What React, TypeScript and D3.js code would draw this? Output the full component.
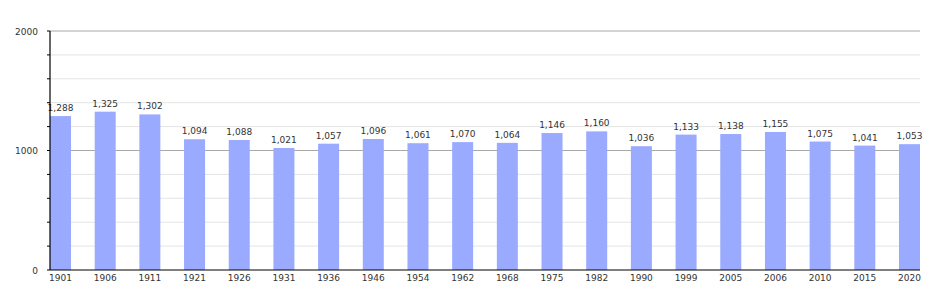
import React from "react";
import * as d3 from "d3";

const years = ["1901","1906","1911","1921","1926","1931","1936","1946","1954","1962","1968","1975","1982","1990","1999","2005","2006","2010","2015","2020"];
const population = [1288,1325,1302,1094,1088,1021,1057,1096,1061,1070,1064,1146,1160,1036,1133,1138,1155,1075,1041,1053];
const yTicks = [0, 1000, 2000];
const minorTicks = [200, 400, 600, 800, 1200, 1400, 1600, 1800];

export default function App() {
  const W = 950, H = 300;
  const left = 50, right = 920, top = 31, bottom = 270;
  const barW = 21;
  const y = d3.scaleLinear().domain([0, 2000]).range([bottom, top]);
  const x = d3.scalePoint<string>().domain(years).range([left + barW / 2, right - barW / 2]);
  const fmt = d3.format(",");
  const font = "Verdana, 'DejaVu Sans', sans-serif";
  return (
    <svg width={W} height={H} style={{ position: "absolute", left: 0, top: 0 }}>
      <rect width={W} height={H} fill="#fff" />
      {minorTicks.map(t => (
        <g key={t}>
          <line x1={left} x2={right} y1={y(t)} y2={y(t)} stroke="#e4e4e4" strokeWidth={1} />
          <line x1={left - 3} x2={left} y1={y(t)} y2={y(t)} stroke="#000" strokeWidth={1} />
        </g>
      ))}
      {yTicks.filter(t => t > 0).map(t => (
        <line key={t} x1={left} x2={right} y1={y(t)} y2={y(t)} stroke="#a8a8a8" strokeWidth={1} />
      ))}
      {population.map((v, i) => (
        <rect key={years[i]} x={(x(years[i]) as number) - barW / 2} y={y(v)} width={barW} height={bottom - y(v)} fill="#99aaff" />
      ))}
      {population.map((v, i) => (
        <text key={"l" + years[i]} x={x(years[i]) as number} y={y(v) - 5} textAnchor="middle" fontFamily={font} fontSize={9} fill="#333">{fmt(v)}</text>
      ))}
      <line x1={left} x2={left} y1={top} y2={bottom} stroke="#000" strokeWidth={1.2} />
      <line x1={left} x2={right} y1={bottom} y2={bottom} stroke="#000" strokeWidth={1.2} />
      {yTicks.map(t => (
        <g key={"y" + t}>
          <line x1={left - 3} x2={left} y1={y(t)} y2={y(t)} stroke="#000" strokeWidth={1} />
          <text x={38} y={y(t) + 3.5} textAnchor="end" fontFamily={font} fontSize={9} fill="#333">{t}</text>
        </g>
      ))}
      {years.map(yr => (
        <text key={"x" + yr} x={x(yr) as number} y={281} textAnchor="middle" fontFamily={font} fontSize={9} fill="#333">{yr}</text>
      ))}
    </svg>
  );
}
